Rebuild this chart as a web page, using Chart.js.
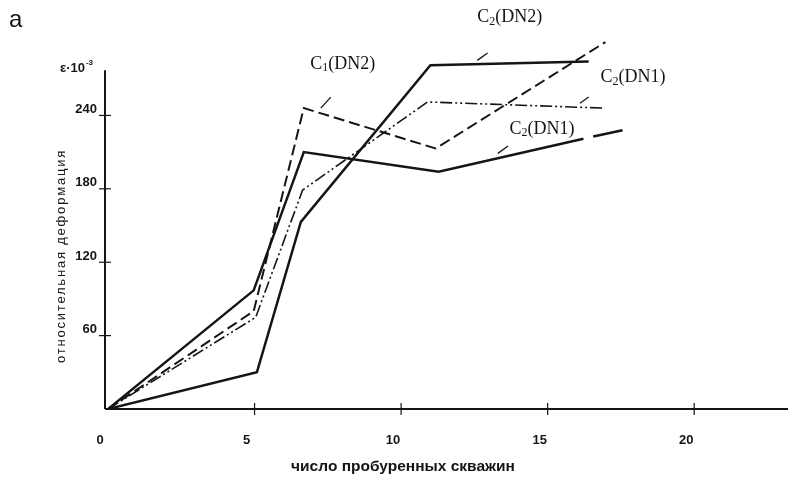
<!DOCTYPE html>
<html>
<head>
<meta charset="utf-8">
<script src="https://cdn.jsdelivr.net/npm/chart.js@4.4.0/dist/chart.umd.min.js"></script>
<style>
  html, body { margin: 0; padding: 0; background: #fff; }
</style>
</head>
<body>
<canvas id="chart" width="788" height="483"></canvas>
<script>
// tick labels
const xTicks = [0, 5, 10, 15, 20];
const yTicks = [60, 120, 180, 240];
const yAxisTop = 277;

// C2(DN2) - upper solid line
const c2dn2X = [0, 5.08, 6.58, 11.0, 16.4];
const c2dn2Y = [0, 30, 153, 281, 284];

// C2(DN1) - lower solid line (last piece dashed)
const c2dn1X = [0, 4.97, 6.68, 11.28, 16.22, 17.58];
const c2dn1Y = [0, 97, 210, 194, 221, 228];

// C1(DN2) - dashed line
const c1dn2X = [0, 4.97, 6.68, 11.18, 16.97];
const c1dn2Y = [0, 80, 246, 213, 300];

// C2(DN1) - dash-dot-dot line
const c2dn1bX = [0, 5.04, 6.64, 10.9, 16.9];
const c2dn1bY = [0, 75, 179, 251, 246];

// curve labels: text position and leader slash, in data units
const curveLabels = [
    { sub: '1', rest: '(DN2)', x: 6.9, y: 282, slash: [7.26, 246, 7.6, 255] },
    { sub: '2', rest: '(DN2)', x: 12.6, y: 320, slash: [12.6, 285, 12.95, 291] },
    { sub: '2', rest: '(DN1)', x: 16.8, y: 271, slash: [16.1, 250, 16.4, 255] },
    { sub: '2', rest: '(DN1)', x: 13.7, y: 229, slash: [13.3, 209, 13.65, 215] }
];

function toPoints(xs, ys) {
    return xs.map((x, i) => ({ x: x, y: ys[i] }));
}

const ink = '#151515';

const axesPlugin = {
    id: 'axesPlugin',
    afterDatasetsDraw(chart) {
        const ctx = chart.ctx;
        const xs = chart.scales.x;
        const ys = chart.scales.y;
        const x0 = xs.getPixelForValue(0);
        const y0 = ys.getPixelForValue(0);

        ctx.save();
        ctx.strokeStyle = ink;
        ctx.lineWidth = 2;
        // axes
        ctx.beginPath();
        ctx.moveTo(x0 - 3, y0);
        ctx.lineTo(chart.width, y0);
        ctx.moveTo(x0 - 3, y0);
        ctx.lineTo(x0 - 3, ys.getPixelForValue(yAxisTop));
        ctx.stroke();

        // tick crosses
        ctx.lineWidth = 1.2;
        xTicks.forEach(v => {
            if (v === 0) return;
            const px = xs.getPixelForValue(v);
            ctx.beginPath();
            ctx.moveTo(px, y0 - 6);
            ctx.lineTo(px, y0 + 6);
            ctx.stroke();
        });
        yTicks.forEach(v => {
            const py = ys.getPixelForValue(v);
            ctx.beginPath();
            ctx.moveTo(x0 - 9, py);
            ctx.lineTo(x0 + 3, py);
            ctx.stroke();
        });

        // curve labels
        ctx.fillStyle = ink;
        ctx.textBaseline = 'middle';
        curveLabels.forEach(l => {
            let px = xs.getPixelForValue(l.x);
            const py = ys.getPixelForValue(l.y);
            ctx.font = '18px "Liberation Serif"';
            ctx.fillText('C', px, py);
            px += ctx.measureText('C').width;
            ctx.font = '12px "Liberation Serif"';
            ctx.fillText(l.sub, px, py + 4);
            px += ctx.measureText(l.sub).width;
            ctx.font = '18px "Liberation Serif"';
            ctx.fillText(l.rest, px, py);

            ctx.lineWidth = 1.3;
            ctx.beginPath();
            ctx.moveTo(xs.getPixelForValue(l.slash[0]), ys.getPixelForValue(l.slash[1]));
            ctx.lineTo(xs.getPixelForValue(l.slash[2]), ys.getPixelForValue(l.slash[3]));
            ctx.stroke();
        });

        // axis unit label
        ctx.textAlign = 'left';
        ctx.textBaseline = 'alphabetic';
        ctx.font = 'bold 13px "Liberation Sans"';
        const unit = 'ε·10';
        ctx.fillText(unit, 60, 72);
        const uw = ctx.measureText(unit).width;
        ctx.font = 'bold 8px "Liberation Sans"';
        ctx.fillText('-3', 60 + uw + 1, 65);

        // panel letter
        ctx.font = '24px "Liberation Sans"';
        ctx.fillText('a', 9, 27);

        // axis titles
        ctx.textBaseline = 'middle';
        ctx.font = 'bold 15.5px "Liberation Sans"';
        ctx.textAlign = 'center';
        ctx.fillText('число пробуренных скважин', 403, 467);

        ctx.save();
        ctx.translate(61, 256);
        ctx.rotate(-Math.PI / 2);
        ctx.font = '13px "Liberation Sans"';
        ctx.letterSpacing = '1.8px';
        ctx.fillText('относительная деформация', 0, 0);
        ctx.restore();

        ctx.restore();
    }
};

const lastC2dn1 = c2dn1X.length - 1;

const data = {
    datasets: [
        {
            label: 'C2(DN2)',
            data: toPoints(c2dn2X, c2dn2Y),
            borderColor: ink,
            borderWidth: 2.5
        },
        {
            label: 'C2(DN1)',
            data: toPoints(c2dn1X, c2dn1Y),
            borderColor: ink,
            borderWidth: 2.5,
            segment: {
                borderDash: c => c.p1DataIndex === lastC2dn1 ? [30, 10] : undefined,
                borderDashOffset: c => c.p1DataIndex === lastC2dn1 ? 30 : undefined
            }
        },
        {
            label: 'C1(DN2)',
            data: toPoints(c1dn2X, c1dn2Y),
            borderColor: ink,
            borderWidth: 2,
            borderDash: [11, 5]
        },
        {
            label: 'C2(DN1) b',
            data: toPoints(c2dn1bX, c2dn1bY),
            borderColor: ink,
            borderWidth: 1.6,
            borderDash: [12, 3, 2, 3, 2, 3]
        }
    ]
};

const tickFont = { family: 'Liberation Sans', weight: 'bold', size: 13 };

new Chart(document.getElementById('chart'), {
    type: 'line',
    data: data,
    options: {
        responsive: false,
        animation: false,
        events: [],
        layout: { padding: 0 },
        elements: {
            point: { radius: 0 },
            line: { tension: 0, borderCapStyle: 'butt', borderJoinStyle: 'miter' }
        },
        plugins: {
            legend: { display: false },
            tooltip: { enabled: false }
        },
        scales: {
            x: {
                type: 'linear',
                min: 0,
                max: 23.2,
                afterBuildTicks: s => { s.ticks = xTicks.map(v => ({ value: v })); },
                afterFit: s => { s.height = 74; },
                grid: { display: false, drawTicks: false },
                border: { display: false },
                ticks: { font: tickFont, color: ink, padding: 24, labelOffset: -8, maxRotation: 0, autoSkip: false }
            },
            y: {
                type: 'linear',
                min: 0,
                max: 319,
                afterBuildTicks: s => { s.ticks = yTicks.map(v => ({ value: v })); },
                afterFit: s => { s.width = 108; },
                grid: { display: false, drawTicks: false },
                border: { display: false },
                ticks: { font: tickFont, color: ink, padding: 11, labelOffset: -6, autoSkip: false }
            }
        }
    },
    plugins: [axesPlugin]
});
</script>
</body>
</html>
